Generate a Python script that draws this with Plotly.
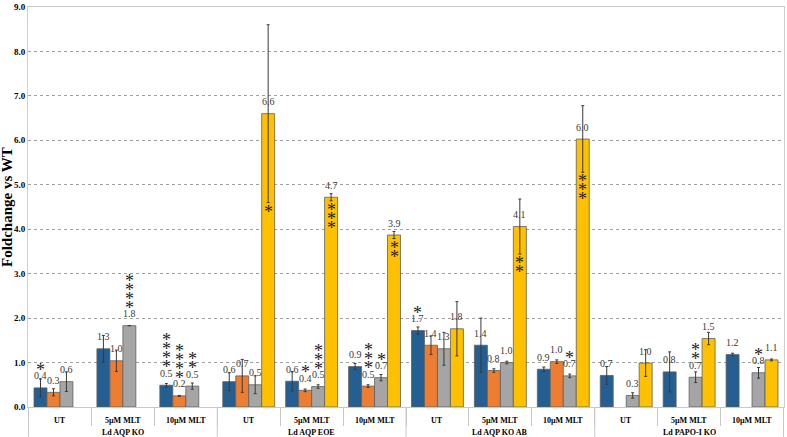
import plotly.graph_objects as go

groups = ["Ld AQP KO", "Ld AQP EOE", "Ld AQP KO AB", "Ld PAPO-I KO"]
treatments = ["UT", "5µM MLT", "10µM MLT"]

# values per (group, treatment) in order
blue = [0.43, 1.31, 0.49, 0.57, 0.58, 0.91, 1.72, 1.39, 0.85, 0.71, 0.79, 1.18]
blue_lbl = ["0.4", "1.3", "0.5", "0.6", "0.6", "0.9", "1.7", "1.4", "0.9", "0.7", "0.8", "1.2"]
blue_err = [0.20, 0.30, 0.04, 0.20, 0.22, 0.07, 0.08, 0.61, 0.05, 0.20, 0.45, 0.03]
blue_stars = [1, 0, 4, 0, 0, 0, 1, 0, 0, 0, 0, 0]

orange = [0.33, 1.04, 0.25, 0.70, 0.375, 0.47, 1.39, 0.82, 1.02, None, None, None]
orange_lbl = ["0.3", "1.0", "0.2", "0.7", "0.4", "0.5", "1.4", "0.8", "1.0", "", "", ""]
orange_err = [0.08, 0.24, 0.01, 0.37, 0.03, 0.03, 0.21, 0.04, 0.04, 0, 0, 0]
orange_stars = [0, 0, 4, 0, 1, 3, 0, 0, 0, 0, 0, 0]

gray = [0.57, 1.83, 0.47, 0.50, 0.46, 0.66, 1.31, 1.00, 0.70, 0.26, 0.67, 0.77]
gray_lbl = ["0.6", "1.8", "0.5", "0.5", "0.5", "0.7", "1.3", "1.0", "0.7", "0.3", "0.7", "0.8"]
gray_err = [0.22, 0.0, 0.07, 0.20, 0.04, 0.07, 0.37, 0.03, 0.04, 0.06, 0.12, 0.12]
gray_stars = [0, 4, 2, 0, 3, 1, 0, 0, 1, 0, 2, 1]

yellow = [None, None, None, 6.60, 4.72, 3.87, 1.76, 4.06, 6.03, 0.99, 1.54, 1.06]
yellow_lbl = ["", "", "", "6.6", "4.7", "3.9", "1.8", "4.1", "6.0", "1.0", "1.5", "1.1"]
yellow_err = [0, 0, 0, 2.00, 0.08, 0.08, 0.61, 0.62, 0.75, 0.30, 0.14, 0.02]
yellow_stars_in = [0, 0, 0, 1, 3, 2, 0, 2, 3, 0, 0, 0]

y_ticks = [0, 1, 2, 3, 4, 5, 6, 7, 8, 9]

outer = [g for g in groups for _ in treatments]
inner = [t for _ in groups for t in treatments]

colors = ["#255E91", "#ED7D31", "#A5A5A5", "#FFC000"]
series = [
    (blue, blue_lbl, blue_err),
    (orange, orange_lbl, orange_err),
    (gray, gray_lbl, gray_err),
    (yellow, yellow_lbl, yellow_err),
]

SERIF = "Liberation Serif, Times New Roman, serif"
bargap = 0.175
H_PLOT = 437 - 5 - 30

fig = go.Figure()
for (vals, lbls, errs), col in zip(series, colors):
    fig.add_trace(go.Bar(
        x=[outer, inner], y=vals,
        marker=dict(color=col, line=dict(color="#5f5f5f", width=0.8)),
        error_y=dict(type="data", array=errs, visible=True,
                     color="#3a3a3a", thickness=1, width=1.5),
        showlegend=False,
    ))

w = (1 - bargap) / 4
annotations = []

# value labels just above each bar top
for s, (vals, lbls, errs) in enumerate(series):
    for i, (v, lab) in enumerate(zip(vals, lbls)):
        if v is None or not lab:
            continue
        annotations.append(dict(
            x=i + (s - 1.5) * w, y=v, xref="x", yref="y",
            text=lab, showarrow=False,
            font=dict(family=SERIF, size=10, color="#3a3a3a"),
            yanchor="middle", yshift=12,
        ))


def star_stack(n):
    star = "<span style='font-size:18px'>*</span>"
    return "<br>".join([star] * n)


above = [blue_stars, orange_stars, gray_stars]
for s, counts in enumerate(above):
    vals = series[s][0]
    for i, n in enumerate(counts):
        if n:
            annotations.append(dict(
                x=i + (s - 1.5) * w, y=vals[i], xref="x", yref="y",
                text=star_stack(n), showarrow=False,
                font=dict(family=SERIF, size=7, color="#222222"),
                yanchor="bottom", yshift=6,
            ))
for i, n in enumerate(yellow_stars_in):
    if n:
        annotations.append(dict(
            x=i + 1.5 * w, y=yellow[i] - yellow_err[i], xref="x", yref="y",
            text=star_stack(n), showarrow=False,
            font=dict(family=SERIF, size=7, color="#222222"),
            yanchor="top", yshift=3,
        ))

# category labels (two rows)
for i, t in enumerate(inner):
    annotations.append(dict(
        x=i, y=0, xref="x", yref="paper", yshift=-13, yanchor="middle",
        text=f"<b>{t}</b>", showarrow=False,
        font=dict(family=SERIF, size=8, color="#000000"),
    ))
n_t = len(treatments)
for j, g in enumerate(groups):
    annotations.append(dict(
        x=j * n_t + (n_t - 1) / 2, y=0, xref="x", yref="paper", yshift=-25,
        yanchor="middle", text=f"<b>{g}</b>", showarrow=False,
        font=dict(family=SERIF, size=8, color="#000000"),
    ))

annotations.append(dict(
    x=0, y=0.5, xref="paper", yref="paper", xshift=-21, xanchor="center",
    text="<b>Foldchange vs WT</b>", textangle=-90, showarrow=False,
    font=dict(family=SERIF, size=15, color="#000000"),
))

shapes = []
for j in range(len(groups) + 1):
    shapes.append(dict(
        type="line", xref="x", yref="paper",
        x0=j * n_t - 0.5, x1=j * n_t - 0.5, y0=0, y1=-30 / H_PLOT,
        line=dict(color="#c8c8c8", width=1),
    ))

fig.update_layout(
    width=787, height=437,
    margin=dict(l=28, r=2, t=5, b=30),
    paper_bgcolor="white", plot_bgcolor="white",
    barmode="group", bargap=bargap, bargroupgap=0,
    annotations=annotations, shapes=shapes,
    font=dict(family=SERIF),
)
fig.update_xaxes(
    type="multicategory", showticklabels=False,
    showline=True, linecolor="#c8c8c8", linewidth=1, mirror=True,
    showdividers=False,
    ticks="outside", ticklen=18, tickcolor="#c8c8c8", tickson="boundaries",
    showgrid=False,
)
fig.update_yaxes(
    range=[0, 9], tickvals=y_ticks, tickformat=".1f",
    showline=True, linecolor="#d0d0d0", linewidth=1, mirror=True,
    showgrid=True, gridcolor="#a0a0a0", griddash="dot", gridwidth=1,
    zeroline=False, ticks="",
    tickfont=dict(family=SERIF, size=9, color="#000000", weight="bold"),
)

fig.write_html("out.html")
